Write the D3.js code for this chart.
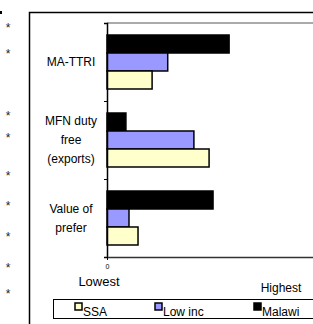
<!DOCTYPE html>
<head>
  <meta charset="UTF-8">
  <title>chart</title>
  <style>
  body, html, svg{
    padding: 0;
    margin: 0;
  }
  body{
    background: #fff;
    overflow: hidden;
  }
  text{
    font-family: "Liberation Sans", Arial, sans-serif;
  }
  </style>
</head>
<body>
  <script src="https://cdn.jsdelivr.net/npm/d3@7"></script>
  <script type="text/javascript">
  // data
  var categories = ['MA-TTRI', 'MFN duty free (exports)', 'Value of prefer'];
  var categoryLines = [['MA-TTRI'], ['MFN duty', 'free', '(exports)'], ['Value of', 'prefer']];
  var series = ['Malawi', 'Low inc', 'SSA'];
  var malawi = [55.5, 8.6, 48.2];
  var lowInc = [27.6, 39.5, 10];
  var ssa = [20.5, 46.4, 14.1];
  var starRows = [25, 51, 113, 135, 173, 203, 234, 265, 291];

  var width = 313, height = 324;
  var colors = { 'SSA': '#ffffcc', 'Low inc': '#9999ff', 'Malawi': '#000000' };
  var values = { 'Malawi': malawi, 'Low inc': lowInc, 'SSA': ssa };

  var svg = d3.select('body')
    .append('svg')
    .attr('width', width)
    .attr('height', height);

  // outer frame
  svg.append('path')
    .attr('d', 'M29.5,324V12.5H313')
    .attr('fill', 'none')
    .attr('stroke', '#000')
    .attr('stroke-width', 1.5);
  svg.append('rect')
    .attr('x', 0).attr('y', 11).attr('width', 2).attr('height', 3)
    .attr('fill', '#000');

  // stars on the left margin
  svg.append('g')
    .selectAll('text')
    .data(starRows)
    .enter()
    .append('text')
    .attr('x', 8)
    .attr('y', function(d){ return d + 7; })
    .attr('text-anchor', 'middle')
    .attr('font-size', 12)
    .attr('fill', '#222')
    .text('*');

  // scales
  var x = d3.scaleLinear().domain([0, 100]).range([107, 327]);
  var y = d3.scaleBand().domain(categories).range([23, 257]).padding(0);
  var ySub = d3.scaleBand().domain(series).range([0, y.bandwidth()])
    .paddingInner(0).paddingOuter(0.667);

  // plot top edge
  svg.append('line')
    .attr('x1', 107).attr('x2', width)
    .attr('y1', 23).attr('y2', 23)
    .attr('stroke', '#aaa')
    .attr('stroke-width', 2);

  // bars
  var groups = svg.append('g')
    .selectAll('g')
    .data(categories)
    .enter()
    .append('g')
    .attr('transform', function(d){ return 'translate(0,' + y(d) + ')'; });

  groups.selectAll('rect')
    .data(function(d, i){
      return series.map(function(s){ return { s: s, v: values[s][i] }; });
    })
    .enter()
    .append('rect')
    .attr('x', x(0))
    .attr('y', function(d){ return ySub(d.s); })
    .attr('width', function(d){ return x(d.v) - x(0); })
    .attr('height', ySub.bandwidth())
    .attr('fill', function(d){ return colors[d.s]; })
    .attr('stroke', '#000')
    .attr('stroke-width', 1.5);

  // axes
  var yAxis = svg.append('g')
    .attr('transform', 'translate(107,0)')
    .call(d3.axisLeft(d3.scaleLinear().domain([0, 3]).range([257, 23]))
      .ticks(3).tickSize(3).tickFormat(''));
  yAxis.select('.domain').attr('stroke-width', 1.5);

  var xAxis = svg.append('g')
    .attr('transform', 'translate(0,257)')
    .call(d3.axisBottom(x).tickValues([0]).tickSize(3).tickSizeOuter(0));
  xAxis.select('.domain').attr('stroke', '#333').attr('stroke-width', 1.5);
  xAxis.selectAll('.tick text')
    .attr('font-size', 7)
    .attr('font-family', '"Liberation Sans", Arial, sans-serif')
    .attr('dy', '0.9em')
    .attr('fill', '#000');

  // category labels
  var labels = svg.append('g')
    .selectAll('text')
    .data(categories)
    .enter()
    .append('text')
    .attr('text-anchor', 'middle')
    .attr('font-size', 12)
    .attr('fill', '#000');

  labels.each(function(d, i){
    var lines = categoryLines[i];
    var mid = y(d) + y.bandwidth() / 2;
    var start = mid - (lines.length - 1) * 19 / 2 + 4;
    d3.select(this).selectAll('tspan')
      .data(lines)
      .enter()
      .append('tspan')
      .attr('x', 71)
      .attr('y', function(l, j){ return start + j * 19; })
      .text(function(l){ return l; });
  });

  svg.append('text')
    .attr('x', 99).attr('y', 286)
    .attr('text-anchor', 'middle')
    .attr('font-size', 13)
    .text('Lowest');
  svg.append('text')
    .attr('x', 281).attr('y', 292)
    .attr('text-anchor', 'middle')
    .attr('font-size', 12)
    .text('Highest');

  // legend
  svg.append('rect')
    .attr('x', 53.5).attr('y', 299.5)
    .attr('width', 280).attr('height', 19)
    .attr('fill', 'none')
    .attr('stroke', '#000')
    .attr('stroke-width', 1);

  var legendItems = ['SSA', 'Low inc', 'Malawi'];
  var legendX = [75, 155, 254];
  var legend = svg.append('g')
    .selectAll('g')
    .data(legendItems)
    .enter()
    .append('g')
    .attr('transform', function(d, i){ return 'translate(' + legendX[i] + ',303)'; });
  legend.append('rect')
    .attr('width', 7).attr('height', 7)
    .attr('fill', function(d){ return colors[d]; })
    .attr('stroke', '#000')
    .attr('stroke-width', 1.5);
  legend.append('text')
    .attr('x', 8).attr('y', 13)
    .attr('font-size', 12)
    .text(function(d){ return d; });
  </script>
</body>
</html>
